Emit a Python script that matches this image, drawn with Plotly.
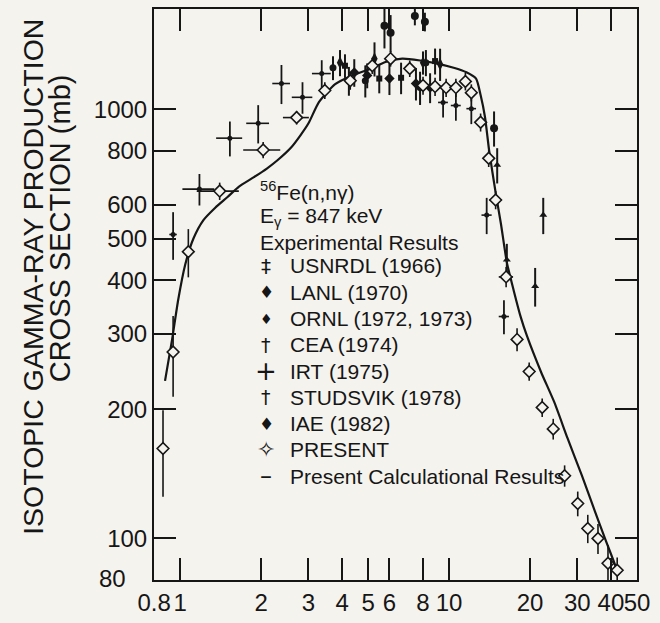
import plotly.graph_objects as go

# ---------------- data ----------------
# Present calculational results (smooth curve)
calc_E = [0.878, 0.933, 0.983, 1.044, 1.12, 1.22, 1.35, 1.5, 1.65, 1.88, 2.1, 2.3, 2.59, 2.8,
          3.0, 3.28, 3.77, 4.36, 5.05, 5.8, 6.7, 7.8, 8.95, 10.4, 11.6, 12.6, 13.1, 13.6, 14.1,
          14.9, 15.6, 16.4, 17.4, 18.5, 19.5, 22.0, 24.6, 27.6, 31.2, 34.9, 38.0, 41.5, 42.6]
calc_sigma = [233, 291, 360, 435, 500, 552, 590, 625, 660, 695, 728, 761, 816, 870,
              928, 1040, 1145, 1200, 1240, 1290, 1313, 1300, 1280, 1250, 1220, 1180, 1080, 960, 800,
              640, 540, 440, 378, 327, 296, 244, 208, 171, 140, 115.5, 100, 86.5, 82]

# PRESENT measurements
pres_E = [0.863, 0.941, 1.072, 1.402, 2.035, 2.71, 3.45, 4.29, 5.18, 6.06, 7.14, 8.0, 8.87,
          9.75, 10.6, 11.5, 12.1, 13.1, 14.04, 14.9, 16.3, 17.9, 19.86, 22.2, 24.4, 26.9,
          30.1, 32.8, 35.8, 39.0, 42.2]
pres_sigma = [162, 272, 466, 645, 804, 957, 1107, 1166, 1264, 1313, 1245, 1137, 1130,
              1124, 1124, 1162, 1094, 933, 769, 615, 407, 291, 245, 202, 180, 140,
              120.6, 105.5, 100, 87.5, 84.3]
pres_dsig = [37, 58, 60, 30, 35, 35, 50, 55, 55, 55, 55, 55, 55,
             55, 55, 55, 50, 45, 35, 30, 22, 18, 12, 10, 10, 8,
             8, 8, 8, 9, 6]
pres_dE = [0, 0, 0, 0.25, 0.32, 0.3, 0, 0, 0, 0, 0, 0, 0,
           0, 0, 0, 0, 0, 0, 0.8, 1.0, 0, 0, 0, 0, 0,
           0, 0, 0, 0, 0]

# IRT (1975)
irt_E = [0.941, 1.179, 1.53, 1.95, 2.38, 2.85, 3.36, 9.5, 10.6, 12.1, 13.8, 16.0]
irt_sigma = [511, 652, 857, 928, 1149, 1067, 1212, 1038, 1021, 1004, 567, 329]
irt_dE = [0.03, 0.16, 0.17, 0.19, 0.18, 0.25, 0.27, 0.4, 0.45, 0.5, 0.6, 0.7]
irt_dsig = [65, 55, 80, 95, 120, 90, 90, 80, 80, 80, 55, 30]

# USNRDL (1966)
usnrdl_E = [4.1, 5.5, 6.63, 8.87]
usnrdl_sigma = [1264, 1180, 1185, 1296]
usnrdl_dsig = [80, 90, 100, 90]

# LANL (1970)
lanl_E = [5.75, 6.06, 7.46, 8.13, 14.7]
lanl_sigma = [1567, 1509, 1650, 1600, 904]
lanl_dsig = [180, 150, 80, 80, 85]

# ORNL (1972, 1973)
ornl_E = [4.44, 4.96, 6.0, 7.53, 8.5]
ornl_sigma = [1219, 1200, 1180, 1149, 1124]
ornl_dsig = [90, 80, 100, 100, 90]

# CEA (1974)
cea_E = [3.93, 5.28, 8.0, 9.26]
cea_sigma = [1285, 1313, 1285, 1275]
cea_dsig = [90, 120, 80, 110]

# STUDSVIK (1978)
stud_E = [15.1, 16.4, 20.9, 22.4]
stud_sigma = [742, 446, 387, 567]
stud_dsig = [70, 40, 40, 55]

# IAE (1982)
iae_E = [3.7, 4.24, 4.88, 7.8, 8.2]
iae_sigma = [1250, 1166, 1166, 1124, 1285]
iae_dsig = [80, 90, 100, 100, 90]

x_tickvals = [0.8, 1, 2, 3, 4, 5, 6, 8, 10, 20, 30, 40, 50]
x_ticktext = ["0.8", "1", "2", "3", "4", "5", "6", "8", "10", "20", "30", "40", "50"]
y_tickvals = [100, 200, 300, 400, 500, 600, 800, 1000]
y_ticktext = ["100", "200", "300", "400", "500", "600", "800", "1000"]

legend_names = ["USNRDL (1966)", "LANL (1970)", "ORNL (1972, 1973)", "CEA (1974)",
                "IRT (1975)", "STUDSVIK (1978)", "IAE (1982)", "PRESENT",
                "Present Calculational Results"]
legend_glyphs = ["‡", "♦", "♦", "†", "+", "†", "♦", "✧", "–"]
legend_glyph_sizes = [20, 17, 14, 19, 26, 19, 17, 22, 24]

# ---------------- style ----------------
INK = "#161616"
BG = "#f5f3ee"
FONT = "Liberation Sans, Arial, Helvetica, sans-serif"
PLOT_H = 580
LEG_ROW = 26.7        # px between legend rows
LEG_FIRST = 268       # px from top of page to first legend row
LEG_TEXT_X = 0.2774   # paper x of legend text
LEG_GLYPH_X = 0.2319  # paper x of legend glyph centre

fig = go.Figure()


def filled(E, s, ds, symbol, size):
    fig.add_trace(go.Scatter(
        x=E, y=s, mode="markers", showlegend=False,
        marker=dict(symbol=symbol, size=size, color=INK, line=dict(width=0)),
        error_y=dict(type="data", array=ds, color=INK, thickness=2, width=0),
        hoverinfo="skip"))


# calculated curve
fig.add_trace(go.Scatter(x=calc_E, y=calc_sigma, mode="lines", showlegend=False,
                         line=dict(color=INK, width=2.2, shape="spline", smoothing=0.6),
                         hoverinfo="skip"))

filled(usnrdl_E, usnrdl_sigma, usnrdl_dsig, "square", 6)
filled(lanl_E, lanl_sigma, lanl_dsig, "circle", 8)
filled(ornl_E, ornl_sigma, ornl_dsig, "diamond", 8)
filled(cea_E, cea_sigma, cea_dsig, "diamond-tall", 9)
filled(stud_E, stud_sigma, stud_dsig, "triangle-up", 7)
filled(iae_E, iae_sigma, iae_dsig, "circle", 7)

# IRT crosses
fig.add_trace(go.Scatter(
    x=irt_E, y=irt_sigma, mode="markers", showlegend=False,
    marker=dict(symbol="circle", size=5, color=INK),
    error_y=dict(type="data", array=irt_dsig, color=INK, thickness=1.8, width=0),
    error_x=dict(type="data", array=irt_dE, color=INK, thickness=1.6, width=0),
    hoverinfo="skip"))

# PRESENT open diamonds
fig.add_trace(go.Scatter(
    x=pres_E, y=pres_sigma, mode="markers", showlegend=False,
    marker=dict(symbol="diamond", size=9, color=BG, line=dict(color=INK, width=1.6)),
    error_y=dict(type="data", array=pres_dsig, color=INK, thickness=1.6, width=0),
    error_x=dict(type="data", array=pres_dE, color=INK, thickness=1.6, width=0),
    hoverinfo="skip"))

axis_common = dict(type="log", showline=True, linecolor=INK, linewidth=2, mirror="allticks",
                   ticks="inside", ticklen=22, tickwidth=2, tickcolor=INK, showgrid=False,
                   zeroline=False, tickangle=0,
                   tickfont=dict(family=FONT, size=24, color=INK))

annotations = [
    dict(text="ISOTOPIC GAMMA-RAY PRODUCTION", xref="paper", yref="paper",
         x=-0.2505, y=0.531, textangle=-90, showarrow=False,
         font=dict(family=FONT, size=28.5, color=INK), xanchor="center", yanchor="middle"),
    dict(text="CROSS SECTION (mb)", xref="paper", yref="paper",
         x=-0.1946, y=0.616, textangle=-90, showarrow=False,
         font=dict(family=FONT, size=29, color=INK), xanchor="center", yanchor="middle"),
    dict(text="80", xref="paper", yref="paper", x=-0.0849, y=0.0034, showarrow=False,
         font=dict(family=FONT, size=24, color=INK), xanchor="center", yanchor="middle"),
    dict(text="<sup>56</sup>Fe(n,nγ)", xref="paper", yref="paper", x=0.2153, y=0.681,
         showarrow=False, font=dict(family=FONT, size=21, color=INK),
         xanchor="left", yanchor="middle"),
    dict(text="E<sub>γ</sub> = 847 keV", xref="paper", yref="paper", x=0.2153, y=0.636,
         showarrow=False, font=dict(family=FONT, size=21, color=INK),
         xanchor="left", yanchor="middle"),
    dict(text="Experimental Results", xref="paper", yref="paper", x=0.2153, y=0.591,
         showarrow=False, font=dict(family=FONT, size=21, color=INK),
         xanchor="left", yanchor="middle"),
]
for i, (name, glyph, gsize) in enumerate(zip(legend_names, legend_glyphs, legend_glyph_sizes)):
    ypaper = 1 - (LEG_FIRST + i * LEG_ROW - 7) / PLOT_H
    annotations.append(dict(text=glyph, xref="paper", yref="paper", x=LEG_GLYPH_X,
                            y=ypaper, showarrow=False,
                            font=dict(family="DejaVu Sans, " + FONT, size=gsize, color=INK),
                            xanchor="center", yanchor="middle"))
    annotations.append(dict(text=name, xref="paper", yref="paper", x=LEG_TEXT_X,
                            y=ypaper, showarrow=False,
                            font=dict(family=FONT, size=21, color=INK),
                            xanchor="left", yanchor="middle"))

fig.update_layout(
    width=660, height=623,
    margin=dict(l=154, r=23, t=7, b=36),
    paper_bgcolor=BG, plot_bgcolor=BG,
    font=dict(family=FONT, color=INK),
    xaxis=dict(range=[-0.0975, 1.69897], tickvals=x_tickvals, ticktext=x_ticktext, **axis_common),
    yaxis=dict(range=[1.90309, 3.234], tickvals=y_tickvals, ticktext=y_ticktext, **axis_common),
    showlegend=False,
    annotations=annotations,
)

fig.write_html("out.html", config={"displayModeBar": False},
               post_script="document.body.style.margin='0px';")
